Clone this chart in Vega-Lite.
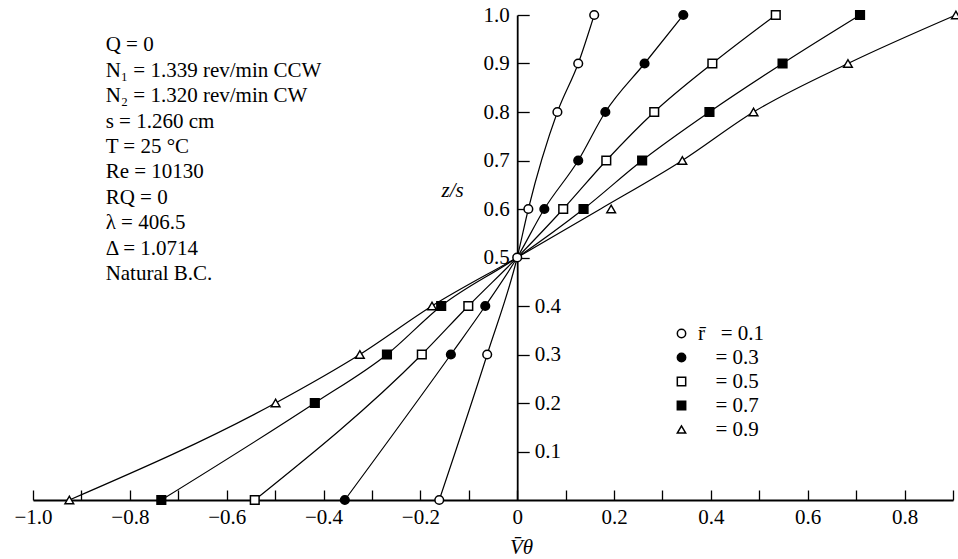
{
  "$schema": "https://vega.github.io/schema/vega-lite/v6.json",
  "width": 920,
  "height": 485,
  "autosize": {"type": "none"},
  "padding": {"left": 33, "top": 15, "right": 5, "bottom": 59},
  "background": "white",
  "config": {
    "view": {"stroke": null},
    "font": "Liberation Serif",
    "axis": {
      "labelFont": "Liberation Serif",
      "titleFont": "Liberation Serif",
      "labelColor": "black",
      "titleColor": "black",
      "domainColor": "black",
      "tickColor": "black",
      "domainWidth": 1.8,
      "tickWidth": 1.3,
      "grid": false,
      "labelFontSize": 21,
      "titleFontSize": 21,
      "titleFontWeight": "normal",
      "labelOverlap": false,
      "labelFlush": false,
      "labelBound": false
    },
    "legend": {
      "labelFont": "Liberation Serif"
    }
  },
  "datasets": {
    "markers": [
      {"r": "0.1", "V": -0.161, "z": 0.0},
      {"r": "0.1", "V": -0.062, "z": 0.3},
      {"r": "0.1", "V": 0.0, "z": 0.5},
      {"r": "0.1", "V": 0.023, "z": 0.6},
      {"r": "0.1", "V": 0.083, "z": 0.8},
      {"r": "0.1", "V": 0.126, "z": 0.9},
      {"r": "0.1", "V": 0.159, "z": 1.0},
      {"r": "0.3", "V": -0.356, "z": 0.0},
      {"r": "0.3", "V": -0.137, "z": 0.3},
      {"r": "0.3", "V": -0.066, "z": 0.4},
      {"r": "0.3", "V": 0.056, "z": 0.6},
      {"r": "0.3", "V": 0.126, "z": 0.7},
      {"r": "0.3", "V": 0.182, "z": 0.8},
      {"r": "0.3", "V": 0.263, "z": 0.9},
      {"r": "0.3", "V": 0.343, "z": 1.0},
      {"r": "0.5", "V": -0.542, "z": 0.0},
      {"r": "0.5", "V": -0.197, "z": 0.3},
      {"r": "0.5", "V": -0.101, "z": 0.4},
      {"r": "0.5", "V": 0.095, "z": 0.6},
      {"r": "0.5", "V": 0.184, "z": 0.7},
      {"r": "0.5", "V": 0.283, "z": 0.8},
      {"r": "0.5", "V": 0.403, "z": 0.9},
      {"r": "0.5", "V": 0.534, "z": 1.0},
      {"r": "0.7", "V": -0.735, "z": 0.0},
      {"r": "0.7", "V": -0.418, "z": 0.2},
      {"r": "0.7", "V": -0.269, "z": 0.3},
      {"r": "0.7", "V": -0.157, "z": 0.4},
      {"r": "0.7", "V": 0.137, "z": 0.6},
      {"r": "0.7", "V": 0.258, "z": 0.7},
      {"r": "0.7", "V": 0.397, "z": 0.8},
      {"r": "0.7", "V": 0.548, "z": 0.9},
      {"r": "0.7", "V": 0.708, "z": 1.0},
      {"r": "0.9", "V": -0.925, "z": 0.0},
      {"r": "0.9", "V": -0.499, "z": 0.2},
      {"r": "0.9", "V": -0.325, "z": 0.3},
      {"r": "0.9", "V": -0.176, "z": 0.4},
      {"r": "0.9", "V": 0.194, "z": 0.6},
      {"r": "0.9", "V": 0.341, "z": 0.7},
      {"r": "0.9", "V": 0.488, "z": 0.8},
      {"r": "0.9", "V": 0.683, "z": 0.9},
      {"r": "0.9", "V": 0.906, "z": 1.0}
    ],
    "curves": [
      {"r": "0.1", "V": -0.161, "z": 0.0},
      {"r": "0.1", "V": -0.062, "z": 0.3},
      {"r": "0.1", "V": 0.0, "z": 0.5},
      {"r": "0.1", "V": 0.023, "z": 0.6},
      {"r": "0.1", "V": 0.083, "z": 0.8},
      {"r": "0.1", "V": 0.126, "z": 0.9},
      {"r": "0.1", "V": 0.159, "z": 1.0},
      {"r": "0.3", "V": -0.356, "z": 0.0},
      {"r": "0.3", "V": -0.137, "z": 0.3},
      {"r": "0.3", "V": -0.066, "z": 0.4},
      {"r": "0.3", "V": 0.0, "z": 0.5},
      {"r": "0.3", "V": 0.056, "z": 0.6},
      {"r": "0.3", "V": 0.126, "z": 0.7},
      {"r": "0.3", "V": 0.182, "z": 0.8},
      {"r": "0.3", "V": 0.263, "z": 0.9},
      {"r": "0.3", "V": 0.343, "z": 1.0},
      {"r": "0.5", "V": -0.542, "z": 0.0},
      {"r": "0.5", "V": -0.197, "z": 0.3},
      {"r": "0.5", "V": -0.101, "z": 0.4},
      {"r": "0.5", "V": 0.0, "z": 0.5},
      {"r": "0.5", "V": 0.095, "z": 0.6},
      {"r": "0.5", "V": 0.184, "z": 0.7},
      {"r": "0.5", "V": 0.283, "z": 0.8},
      {"r": "0.5", "V": 0.403, "z": 0.9},
      {"r": "0.5", "V": 0.534, "z": 1.0},
      {"r": "0.7", "V": -0.735, "z": 0.0},
      {"r": "0.7", "V": -0.418, "z": 0.2},
      {"r": "0.7", "V": -0.269, "z": 0.3},
      {"r": "0.7", "V": -0.157, "z": 0.4},
      {"r": "0.7", "V": 0.0, "z": 0.5},
      {"r": "0.7", "V": 0.137, "z": 0.6},
      {"r": "0.7", "V": 0.258, "z": 0.7},
      {"r": "0.7", "V": 0.397, "z": 0.8},
      {"r": "0.7", "V": 0.548, "z": 0.9},
      {"r": "0.7", "V": 0.708, "z": 1.0},
      {"r": "0.9", "V": -0.925, "z": 0.0},
      {"r": "0.9", "V": -0.499, "z": 0.2},
      {"r": "0.9", "V": -0.325, "z": 0.3},
      {"r": "0.9", "V": -0.176, "z": 0.4},
      {"r": "0.9", "V": 0.0, "z": 0.5},
      {"r": "0.9", "V": 0.172, "z": 0.6},
      {"r": "0.9", "V": 0.341, "z": 0.7},
      {"r": "0.9", "V": 0.488, "z": 0.8},
      {"r": "0.9", "V": 0.683, "z": 0.9},
      {"r": "0.9", "V": 0.906, "z": 1.0}
    ]
  },
  "layer": [
    {
      "data": {"name": "curves"},
      "mark": {"type": "line", "interpolate": "monotone", "color": "black", "strokeWidth": 1.2},
      "encoding": {
        "x": {
          "field": "V", "type": "quantitative",
          "scale": {"domain": [-1, 0.9], "nice": false, "zero": false},
          "axis": {
            "values": [-1, -0.9, -0.8, -0.7, -0.6, -0.5, -0.4, -0.3, -0.2, -0.1, 0, 0.1, 0.2, 0.3, 0.4, 0.5, 0.6, 0.7, 0.8, 0.9],
            "labelExpr": "abs(round(datum.value*10)) % 2 == 1 ? '' : (datum.value == 0 ? '0' : format(datum.value, '.1f'))",
            "tickSize": -10,
            "labelPadding": 16,
            "title": "V̄θ",
            "titleFontStyle": "italic",
            "titleX": 488,
            "titleY": 47,
            "titleAlign": "center",
            "titleBaseline": "middle"
          }
        },
        "y": {
          "field": "z", "type": "quantitative",
          "scale": {"domain": [0, 1], "nice": false},
          "axis": {
            "orient": "left",
            "offset": -484.2,
            "values": [0.1, 0.2, 0.3, 0.4, 0.5, 0.6, 0.7, 0.8, 0.9, 1.0],
            "format": ".1f",
            "tickSize": -12,
            "labelPadding": {"condition": {"test": "datum.value < 0.45", "value": -5}, "value": 20},
            "labelAlign": {"condition": {"test": "datum.value < 0.45", "value": "left"}, "value": "right"},
            "labelBaseline": "middle",
            "title": "z/s",
            "titleFontStyle": "italic",
            "titleAngle": 0,
            "titleX": -65,
            "titleY": 175,
            "titleAlign": "center",
            "titleBaseline": "middle"
          }
        },
        "detail": {"field": "r", "type": "nominal"}
      }
    },
    {
      "data": {"name": "markers"},
      "mark": {"type": "point", "filled": true, "stroke": "black", "strokeWidth": 1.5, "size": 75, "opacity": 1},
      "encoding": {
        "x": {"field": "V", "type": "quantitative"},
        "y": {"field": "z", "type": "quantitative"},
        "fill": {
          "field": "r", "type": "nominal",
          "scale": {"domain": ["0.1", "0.3", "0.5", "0.7", "0.9"], "range": ["white", "black", "white", "black", "white"]},
          "legend": {
            "title": null, "orient": "none", "legendX": 638, "legendY": 308, "padding": 0,
            "labelExpr": "datum.label == '0.1' ? 'r̄\u2002\u00a0= 0.1' : '\u200b\u2002\u00a0\u200a= ' + datum.label",
            "labelFontSize": 21, "labelColor": "black", "labelOffset": 6,
            "symbolSize": 70, "rowPadding": 2,
            "encode": {"symbols": {"update": {"stroke": {"value": "black"}, "strokeWidth": {"value": 1.5}, "opacity": {"value": 1}}}}
          }
        },
        "shape": {
          "field": "r", "type": "nominal",
          "scale": {"domain": ["0.1", "0.3", "0.5", "0.7", "0.9"], "range": ["circle", "circle", "square", "square", "triangle-up"]},
          "legend": {
            "title": null, "orient": "none", "legendX": 638, "legendY": 308, "padding": 0,
            "labelExpr": "datum.label == '0.1' ? 'r̄\u2002\u00a0= 0.1' : '\u200b\u2002\u00a0\u200a= ' + datum.label",
            "labelFontSize": 21, "labelColor": "black", "labelOffset": 6,
            "symbolSize": 70, "rowPadding": 2,
            "encode": {"symbols": {"update": {"stroke": {"value": "black"}, "strokeWidth": {"value": 1.5}, "opacity": {"value": 1}}}}
          }
        }
      }
    },
    {
      "data": {"values": [{}]},
      "mark": {
        "type": "text",
        "text": ["Q = 0", "N₁ = 1.339 rev/min CCW", "N₂ = 1.320 rev/min CW", "s = 1.260 cm", "T = 25 °C", "Re = 10130", "RQ = 0", "λ = 406.5", "Δ = 1.0714", "Natural B.C."],
        "align": "left",
        "baseline": "top",
        "font": "Liberation Serif",
        "fontSize": 21,
        "lineHeight": 25.4,
        "color": "black"
      },
      "encoding": {
        "x": {"datum": -0.85},
        "y": {"datum": 0.96}
      }
    }
  ]
}
